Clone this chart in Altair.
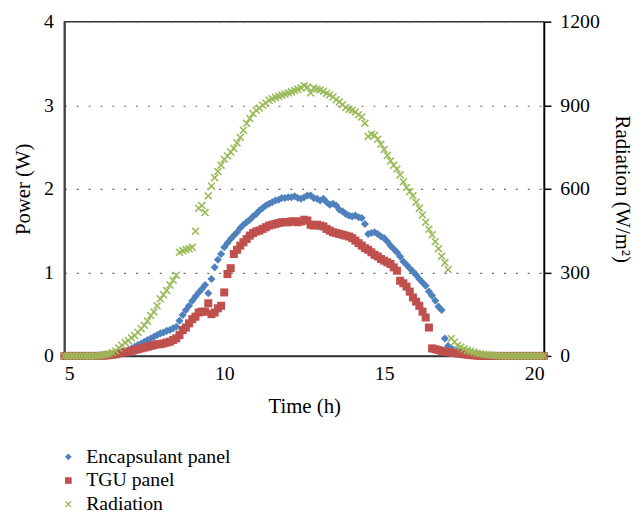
import altair as alt
import pandas as pd

# sampling times (h), every 0.1 h from 5.0 to 20.0
hours = [round(5 + i * 0.1, 1) for i in range(151)]

# Encapsulant panel power (W)
encapsulant = [
    0, 0, 0, 0, 0, 0, 0, 0, 0, 0,                                   # 5.x
    0, 0, 0.005, 0.01, 0.015, 0.02, 0.03, 0.04, 0.05, 0.06,          # 6.x
    0.07, 0.09, 0.11, 0.13, 0.15, 0.17, 0.19, 0.21, 0.23, 0.25,      # 7.x
    0.27, 0.28, 0.30, 0.31, 0.33, 0.35, 0.42, 0.49, 0.55, 0.60,      # 8.x
    0.66, 0.71, 0.76, 0.80, 0.85, 0.75, 0.92, 1.06, 1.15, 1.22,      # 9.x
    1.30, 1.35, 1.40, 1.44, 1.48, 1.53, 1.57, 1.60, 1.63, 1.67,      # 10.x
    1.70, 1.74, 1.77, 1.80, 1.82, 1.84, 1.86, 1.87, 1.89, 1.89,      # 11.x
    1.90, 1.90, 1.91, 1.89, 1.88, 1.90, 1.92, 1.92, 1.89, 1.88,      # 12.x
    1.86, 1.88, 1.84, 1.81, 1.82, 1.80, 1.75, 1.73, 1.70, 1.68,      # 13.x
    1.67, 1.68, 1.66, 1.65, 1.58, 1.46, 1.47, 1.48, 1.46, 1.43,      # 14.x
    1.41, 1.37, 1.32, 1.28, 1.24, 1.19, 1.13, 1.09, 1.05, 1.01,      # 15.x
    0.97, 0.92, 0.88, 0.84, 0.77, 0.72, 0.66, 0.59, 0.55, 0.21,      # 16.x
    0.12, 0.09, 0.07, 0.06, 0.05, 0.04, 0.03, 0.025, 0.02, 0.015,    # 17.x
    0.01, 0.008, 0.005, 0.003, 0.002, 0, 0, 0, 0, 0,                # 18.x
    0, 0, 0, 0, 0, 0, 0, 0, 0, 0,                                    # 19.x
    0,                                                               # 20.0
]

# TGU panel power (W)
tgu = [
    0, 0, 0, 0, 0, 0, 0, 0, 0, 0,
    0, 0, 0.003, 0.006, 0.01, 0.015, 0.02, 0.03, 0.04, 0.045,
    0.05, 0.06, 0.07, 0.08, 0.09, 0.10, 0.11, 0.12, 0.13, 0.14,
    0.14, 0.15, 0.16, 0.17, 0.19, 0.21, 0.25, 0.31, 0.34, 0.39,
    0.44, 0.47, 0.52, 0.53, 0.53, 0.63, 0.50, 0.52, 0.57, 0.60,
    0.76, 0.98, 1.05, 1.22, 1.27, 1.32, 1.36, 1.40, 1.44, 1.47,
    1.49, 1.50, 1.52, 1.54, 1.56, 1.57, 1.58, 1.59, 1.60, 1.60,
    1.60, 1.61, 1.61, 1.60, 1.61, 1.63, 1.62, 1.57, 1.56, 1.57,
    1.56, 1.55, 1.52, 1.50, 1.48, 1.47, 1.46, 1.45, 1.44, 1.43,
    1.41, 1.38, 1.35, 1.32, 1.29, 1.27, 1.24, 1.21, 1.19, 1.16,
    1.14, 1.12, 1.10, 1.06, 1.02, 0.90, 0.87, 0.83, 0.77, 0.70,
    0.65, 0.60, 0.53, 0.46, 0.34, 0.09, 0.08, 0.07, 0.06, 0.05,
    0.045, 0.04, 0.035, 0.03, 0.025, 0.02, 0.015, 0.01, 0.008, 0.005,
    0, 0, 0, 0, 0, 0, 0, 0, 0, 0,
    0, 0, 0, 0, 0, 0, 0, 0, 0, 0,
    0,
]

# Radiation (W/m2)
radiation = [
    0, 0, 0, 0, 0, 0, 0, 0, 0, 0,
    0, 1, 3, 5, 8, 12, 18, 28, 38, 48,
    55, 65, 73, 85, 98, 110, 125, 145, 158, 180,
    205, 220, 235, 255, 272, 290, 372, 378, 382, 385,
    390, 448, 530, 540, 515, 575, 610, 640, 662, 685,
    706, 718, 732, 745, 765, 785, 810, 835, 852, 870,
    882, 890, 900, 908, 918, 923, 928, 932, 936, 940,
    944, 948, 953, 957, 962, 970, 965, 944, 962, 958,
    955, 950, 943, 938, 930, 920, 912, 902, 892, 885,
    882, 876, 866, 858, 835, 788, 796, 792, 778, 760,
    741, 720, 700, 685, 671, 650, 625, 605, 590, 575,
    552, 530, 506, 480, 455, 435, 410, 385, 358, 335,
    310, 63, 50, 38, 32, 25, 20, 17, 13, 10,
    8, 6, 4, 3, 2, 1, 1, 0, 0, 0,
    0, 0, 0, 0, 0, 0, 0, 0, 0, 0,
    0,
]

series_names = ["Encapsulant panel", "TGU panel", "Radiation"]
series_colors = ["#4F81BD", "#C0504D", "#9BBB59"]
X_PATH = ("M-1,-0.72L-0.72,-1L0,-0.28L0.72,-1L1,-0.72L0.28,0L1,0.72"
          "L0.72,1L0,0.28L-0.72,1L-1,0.72L-0.28,0Z")
series_shapes = ["diamond", "square", X_PATH]

power_df = pd.DataFrame({
    "Time": hours + hours,
    "Power": encapsulant + tgu,
    "Series": [series_names[0]] * len(hours) + [series_names[1]] * len(hours),
})
rad_df = pd.DataFrame({
    "Time": hours,
    "Radiation": radiation,
    "Series": [series_names[2]] * len(hours),
})

FONT = "Liberation Serif"

legend = alt.Legend(
    title=None, orient="none", legendX=-6, legendY=430, direction="vertical",
    labelFont=FONT, labelFontSize=20, labelColor="#000", symbolSize=45,
    labelOffset=8, rowPadding=4, padding=0, symbolStrokeWidth=0,
)
color = alt.Color("Series:N", scale=alt.Scale(domain=series_names, range=series_colors), legend=legend)
shape = alt.Shape("Series:N", scale=alt.Scale(domain=series_names, range=series_shapes), legend=legend)

x_enc = alt.X(
    "Time:Q",
    scale=alt.Scale(domain=[5, 20], nice=False, zero=False),
    axis=alt.Axis(values=[5, 10, 15, 20], title="Time (h)", grid=False, ticks=False,
                  domainColor="#333", domainWidth=1.5, labelPadding=8, titlePadding=12),
)

power = alt.Chart(power_df).mark_point(filled=True, size=66, opacity=1).encode(
    x=x_enc,
    y=alt.Y(
        "Power:Q",
        scale=alt.Scale(domain=[0, 4], nice=False),
        axis=alt.Axis(values=[0, 1, 2, 3, 4], title="Power (W)", grid=True,
                      gridDash=[2, 10], gridColor="#666", gridWidth=1.2, ticks=False,
                      domainColor="#444", domainWidth=2, labelPadding=11, titlePadding=10),
    ),
    color=color,
    shape=shape,
)

rad = alt.Chart(rad_df).mark_point(filled=True, size=66, opacity=1).encode(
    x=x_enc,
    y=alt.Y(
        "Radiation:Q",
        scale=alt.Scale(domain=[0, 1200], nice=False),
        axis=alt.Axis(orient="right", values=[0, 300, 600, 900, 1200], format="d",
                      title="Radiation (W/m²)",
                      grid=False, ticks=True, tickSize=7, tickColor="#000", tickWidth=1.5,
                      domainColor="#000", domainWidth=1.5, labelPadding=9, titlePadding=12),
    ),
    color=color,
    shape=shape,
)

chart = alt.layer(power, rad).resolve_scale(y="independent").properties(
    width=485, height=338,
    autosize=alt.AutoSizeParams(type="none"),
    padding={"left": 57, "top": 11, "right": 93, "bottom": 157},
).configure_view(
    stroke="#333", strokeWidth=1.5
).configure_axis(
    labelFont=FONT, labelFontSize=20, labelColor="#000",
    titleFont=FONT, titleFontSize=21, titleFontWeight="normal", titleColor="#000",
)

chart.save("out.html", embed_options={"renderer": "svg", "actions": False})
